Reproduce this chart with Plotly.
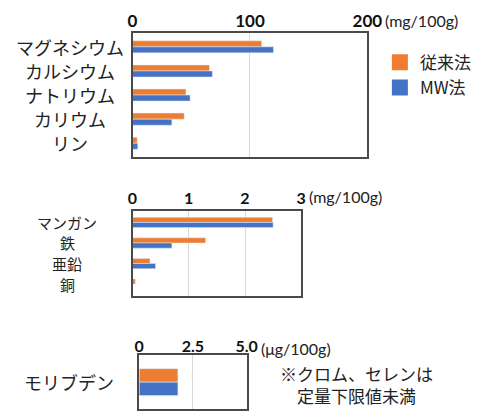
import plotly.graph_objects as go

# --- data -------------------------------------------------------------
macro_minerals = ["マグネシウム", "カルシウム", "ナトリウム", "カリウム", "リン"]
macro_conventional = [110, 65.5, 45.5, 44, 4]
macro_mw = [120, 68, 49, 33.5, 4.5]

trace_minerals = ["マンガン", "鉄", "亜鉛", "銅"]
trace_conventional = [2.49, 1.30, 0.31, 0.05]
trace_mw = [2.50, 0.70, 0.41, 0.0]

ultra_minerals = ["モリブデン"]
ultra_conventional = [1.8]
ultra_mw = [1.8]

series_names = ["従来法", "MW法"]
macro_ticks = [0, 100, 200]
trace_ticks = [0, 1, 2, 3]
ultra_ticks = [0, 2.5, 5.0]
ultra_ticktext = ["0", "2.5", "5.0"]

# --- styling ----------------------------------------------------------
W, H = 485, 411
ORANGE = "#ED7D31"
BLUE = "#4472C4"
TEXT = "#222222"
JP = "Noto Sans CJK JP"
NUM = "Lato"


def px_x(p):
    return p / W


def px_y(p):
    return 1 - p / H


fig = go.Figure()

panels = [
    ("x", "y", macro_minerals, macro_conventional, macro_mw),
    ("x2", "y2", trace_minerals, trace_conventional, trace_mw),
    ("x3", "y3", ultra_minerals, ultra_conventional, ultra_mw),
]
for xa, ya, cats, conv, mw in panels:
    fig.add_trace(go.Bar(y=cats, x=conv, orientation="h", name=series_names[0],
                         marker_color=ORANGE, xaxis=xa, yaxis=ya,
                         showlegend=False))
    fig.add_trace(go.Bar(y=cats, x=mw, orientation="h", name=series_names[1],
                         marker_color=BLUE, xaxis=xa, yaxis=ya,
                         showlegend=False))

# legend entries with large square swatches
for name, color in zip(series_names, [ORANGE, BLUE]):
    fig.add_trace(go.Scatter(x=[None], y=[None], mode="markers", name=name,
                             marker=dict(symbol="square", size=16, color=color),
                             xaxis="x", yaxis="y", showlegend=True))

box = dict(showline=True, mirror=True, linecolor="#4a4a4a", linewidth=1.5)


def xaxis(domain, rng, ticks, ticktext, anchor, size, standoff):
    return dict(domain=domain, range=rng, side="top", anchor=anchor,
                tickmode="array", tickvals=ticks, ticktext=ticktext,
                showgrid=True, gridcolor="#d9d9d9", gridwidth=1,
                zeroline=False, ticks="", ticklen=0,
                ticklabelstandoff=standoff,
                tickfont=dict(family=NUM, size=size, color="#111", weight="bold"),
                fixedrange=True, **box)


def yaxis(domain, anchor):
    return dict(domain=domain, anchor=anchor, type="category",
                autorange="reversed", showticklabels=False, ticks="",
                showgrid=False, zeroline=False, fixedrange=True, **box)


fig.update_layout(
    width=W, height=H,
    margin=dict(l=0, r=0, t=0, b=0),
    paper_bgcolor="white", plot_bgcolor="white",
    barmode="group", bargap=0.5, bargroupgap=0,
    xaxis=xaxis([px_x(133), px_x(378)], [0, 200], macro_ticks,
                [str(t) for t in macro_ticks], "y", 17, -3),
    yaxis=yaxis([px_y(158), px_y(33)], "x"),
    xaxis2=xaxis([px_x(133), px_x(309)], [0, 3], trace_ticks,
                 [str(t) for t in trace_ticks], "y2", 16, -1),
    yaxis2=yaxis([px_y(297), px_y(212)], "x2"),
    xaxis3=xaxis([px_x(140), px_x(252)], [0, 5], ultra_ticks,
                 ultra_ticktext, "y3", 16, -5),
    yaxis3=yaxis([0, px_y(357)], "x3"),
    legend=dict(x=px_x(391), y=px_y(45), xanchor="left", yanchor="top",
                font=dict(family=JP, size=17, color=TEXT),
                bgcolor="rgba(0,0,0,0)", tracegroupgap=0, itemwidth=30),
    showlegend=True,
)

# category labels, centred to the left of each panel
annotations = []
for cats, yref, cx, fs in [(macro_minerals, "y", 68, 18),
                           (trace_minerals, "y2", 65, 15),
                           (ultra_minerals, "y3", 67, 18)]:
    for c in cats:
        annotations.append(dict(x=px_x(cx), xref="paper", y=c, yref=yref,
                                text=c, showarrow=False, xanchor="center",
                                yanchor="middle", borderpad=0,
                                font=dict(family=JP, size=fs, color=TEXT)))

# unit captions next to the last tick
for text, x0, y0 in [("(mg/100g)", 395, 21), ("(mg/100g)", 316, 197),
                     ("(μg/100g)", 266, 350)]:
    annotations.append(dict(x=px_x(x0), y=px_y(y0), xref="paper", yref="paper",
                            text=text, showarrow=False, xanchor="left",
                            yanchor="middle", borderpad=0,
                            font=dict(family=NUM, size=16, color=TEXT)))

# note on elements below the quantification limit
annotations.append(dict(x=px_x(367), y=0, xref="paper", yref="paper",
                        text="※クロム、セレンは<br>定量下限値未満",
                        showarrow=False, xanchor="center", yanchor="bottom",
                        align="center", borderpad=0,
                        font=dict(family=JP, size=17, color=TEXT)))

fig.update_layout(annotations=annotations)
fig.write_html("out.html")
